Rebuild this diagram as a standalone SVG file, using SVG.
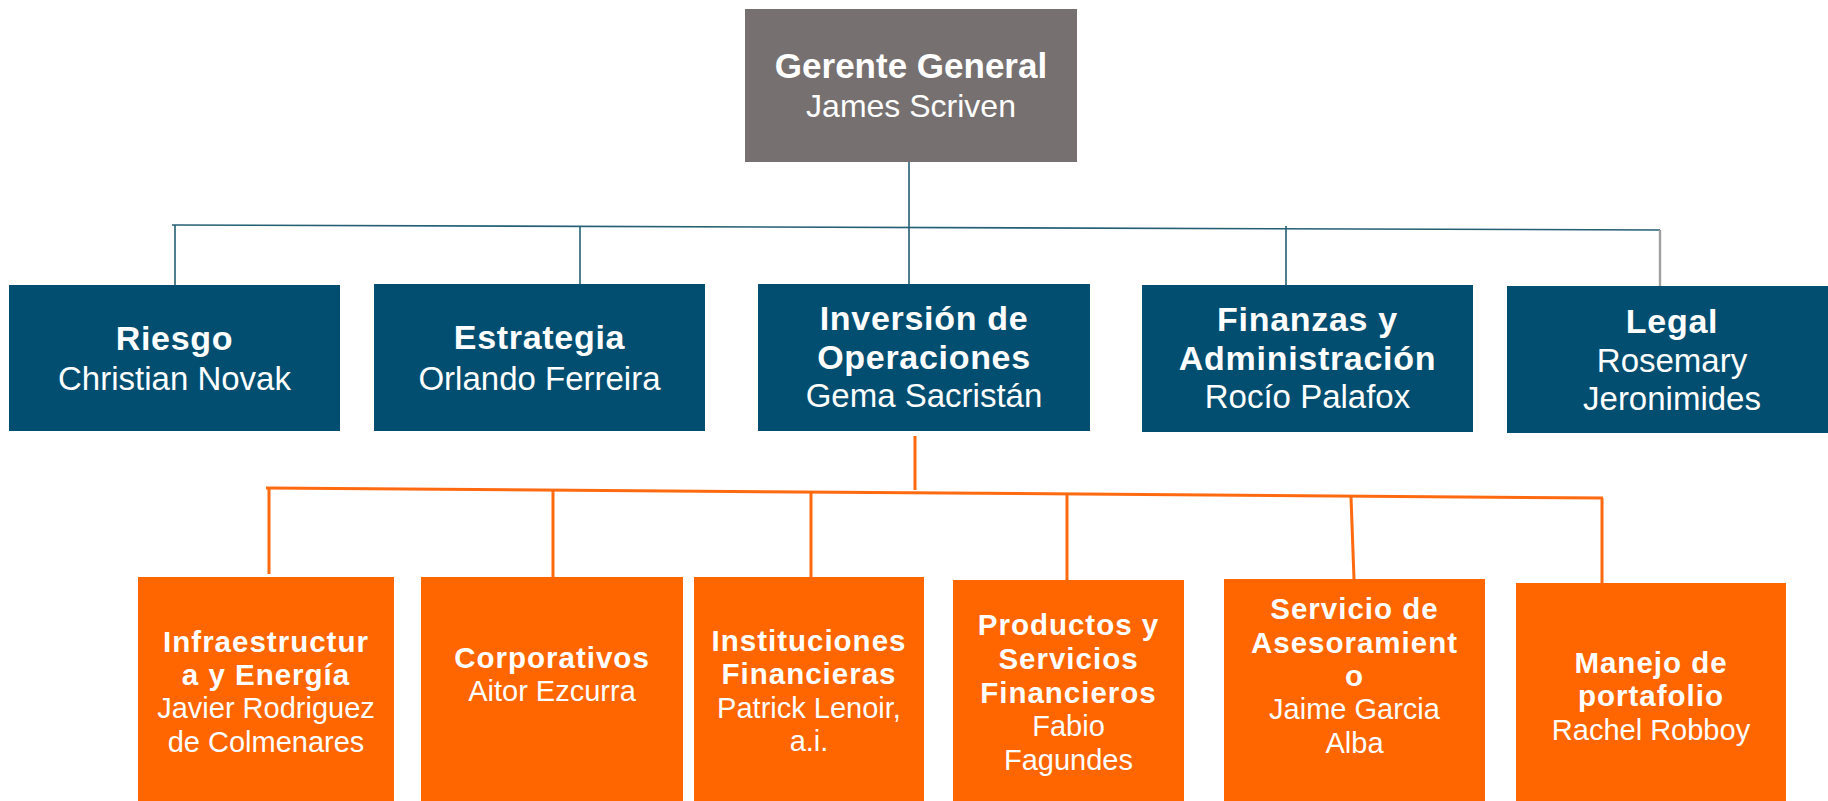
<svg xmlns="http://www.w3.org/2000/svg" width="1828" height="801" viewBox="0 0 1828 801">
<style>
.gm{fill:#767170}
.blue{fill:#024E70}
.org{fill:#FF6600}
text{fill:#ffffff;text-anchor:middle;font-family:"Liberation Sans",Arial,sans-serif}
.b0{font-weight:700;font-size:35px}
.r0{font-weight:400;font-size:32px}
.b1{font-weight:700;font-size:34px;letter-spacing:0.7px}
.r1{font-weight:400;font-size:33px}
.b2{font-weight:700;font-size:29.5px;letter-spacing:1px}
.r2{font-weight:400;font-size:29px}
.lb{stroke:#245F74;stroke-width:1.6;fill:none}
.lo{stroke:#FF6A10;stroke-width:3;fill:none}
</style>
<rect width="1828" height="801" fill="#ffffff"/>
<g id="connectors">
<line class="lb" x1="172" y1="225" x2="1660" y2="230"/>
<line class="lb" x1="175" y1="225" x2="175" y2="285"/>
<line class="lb" x1="580" y1="227" x2="580" y2="284"/>
<line class="lb" x1="909" y1="161" x2="909" y2="290"/>
<line class="lb" x1="1286" y1="226" x2="1286" y2="285"/>
<line x1="1660" y1="230" x2="1660" y2="291" style="stroke:#A0A0A0;stroke-width:2.4"/>
<line class="lo" x1="915" y1="436" x2="915" y2="490"/>
<line class="lo" x1="266" y1="488" x2="1603" y2="498"/>
<line class="lo" x1="269" y1="488" x2="269" y2="574"/>
<line class="lo" x1="553" y1="491" x2="553" y2="577"/>
<line class="lo" x1="811" y1="493" x2="811" y2="577"/>
<line class="lo" x1="1067" y1="495" x2="1067" y2="580"/>
<line class="lo" x1="1351" y1="497" x2="1354" y2="579"/>
<line class="lo" x1="1602" y1="498" x2="1602" y2="583"/>
</g>
<g id="gerente">
<rect class="gm" x="745" y="9" width="332" height="153"/>
<text><tspan class="b0" x="911" y="78">Gerente General</tspan><tspan class="r0" x="911" y="117">James Scriven</tspan></text>
</g>
<g id="riesgo">
<rect class="blue" x="9" y="285" width="331" height="146"/>
<text><tspan class="b1" x="174.5" y="350">Riesgo</tspan><tspan class="r1" x="174.5" y="390">Christian Novak</tspan></text>
</g>
<g id="estrategia">
<rect class="blue" x="374" y="284" width="331" height="147"/>
<text><tspan class="b1" x="539.5" y="349">Estrategia</tspan><tspan class="r1" x="539.5" y="390">Orlando Ferreira</tspan></text>
</g>
<g id="inversion">
<rect class="blue" x="758" y="284" width="332" height="147"/>
<text><tspan class="b1" x="924" y="330">Inversión de</tspan><tspan class="b1" x="924" y="369">Operaciones</tspan><tspan class="r1" x="924" y="407">Gema Sacristán</tspan></text>
</g>
<g id="finanzas">
<rect class="blue" x="1142" y="285" width="331" height="147"/>
<text><tspan class="b1" x="1307.5" y="331">Finanzas y</tspan><tspan class="b1" x="1307.5" y="370">Administración</tspan><tspan class="r1" x="1307.5" y="408">Rocío Palafox</tspan></text>
</g>
<g id="legal">
<rect class="blue" x="1507" y="286" width="321" height="147"/>
<text><tspan class="b1" x="1672" y="333">Legal</tspan><tspan class="r1" x="1672" y="372">Rosemary</tspan><tspan class="r1" x="1672" y="410">Jeronimides</tspan></text>
</g>
<g id="infraestructura">
<rect class="org" x="138" y="577" width="256" height="224"/>
<text><tspan class="b2" x="266" y="652">Infraestructur</tspan><tspan class="b2" x="266" y="685">a y Energía</tspan><tspan class="r2" x="266" y="718">Javier Rodriguez</tspan><tspan class="r2" x="266" y="752">de Colmenares</tspan></text>
</g>
<g id="corporativos">
<rect class="org" x="421" y="577" width="262" height="224"/>
<text><tspan class="b2" x="552" y="668">Corporativos</tspan><tspan class="r2" x="552" y="701">Aitor Ezcurra</tspan></text>
</g>
<g id="instituciones">
<rect class="org" x="694" y="577" width="230" height="224"/>
<text><tspan class="b2" x="809" y="651">Instituciones</tspan><tspan class="b2" x="809" y="684">Financieras</tspan><tspan class="r2" x="809" y="718">Patrick Lenoir,</tspan><tspan class="r2" x="809" y="751">a.i.</tspan></text>
</g>
<g id="productos">
<rect class="org" x="953" y="580" width="231" height="221"/>
<text><tspan class="b2" x="1068.5" y="635">Productos y</tspan><tspan class="b2" x="1068.5" y="669">Servicios</tspan><tspan class="b2" x="1068.5" y="703">Financieros</tspan><tspan class="r2" x="1068.5" y="736">Fabio</tspan><tspan class="r2" x="1068.5" y="770">Fagundes</tspan></text>
</g>
<g id="servicio">
<rect class="org" x="1224" y="579" width="261" height="222"/>
<text><tspan class="b2" x="1354.5" y="619">Servicio de</tspan><tspan class="b2" x="1354.5" y="653">Asesoramient</tspan><tspan class="b2" x="1354.5" y="686">o</tspan><tspan class="r2" x="1354.5" y="719">Jaime Garcia</tspan><tspan class="r2" x="1354.5" y="753">Alba</tspan></text>
</g>
<g id="manejo">
<rect class="org" x="1516" y="583" width="270" height="218"/>
<text><tspan class="b2" x="1651" y="673">Manejo de</tspan><tspan class="b2" x="1651" y="706">portafolio</tspan><tspan class="r2" x="1651" y="740">Rachel Robboy</tspan></text>
</g>
</svg>
